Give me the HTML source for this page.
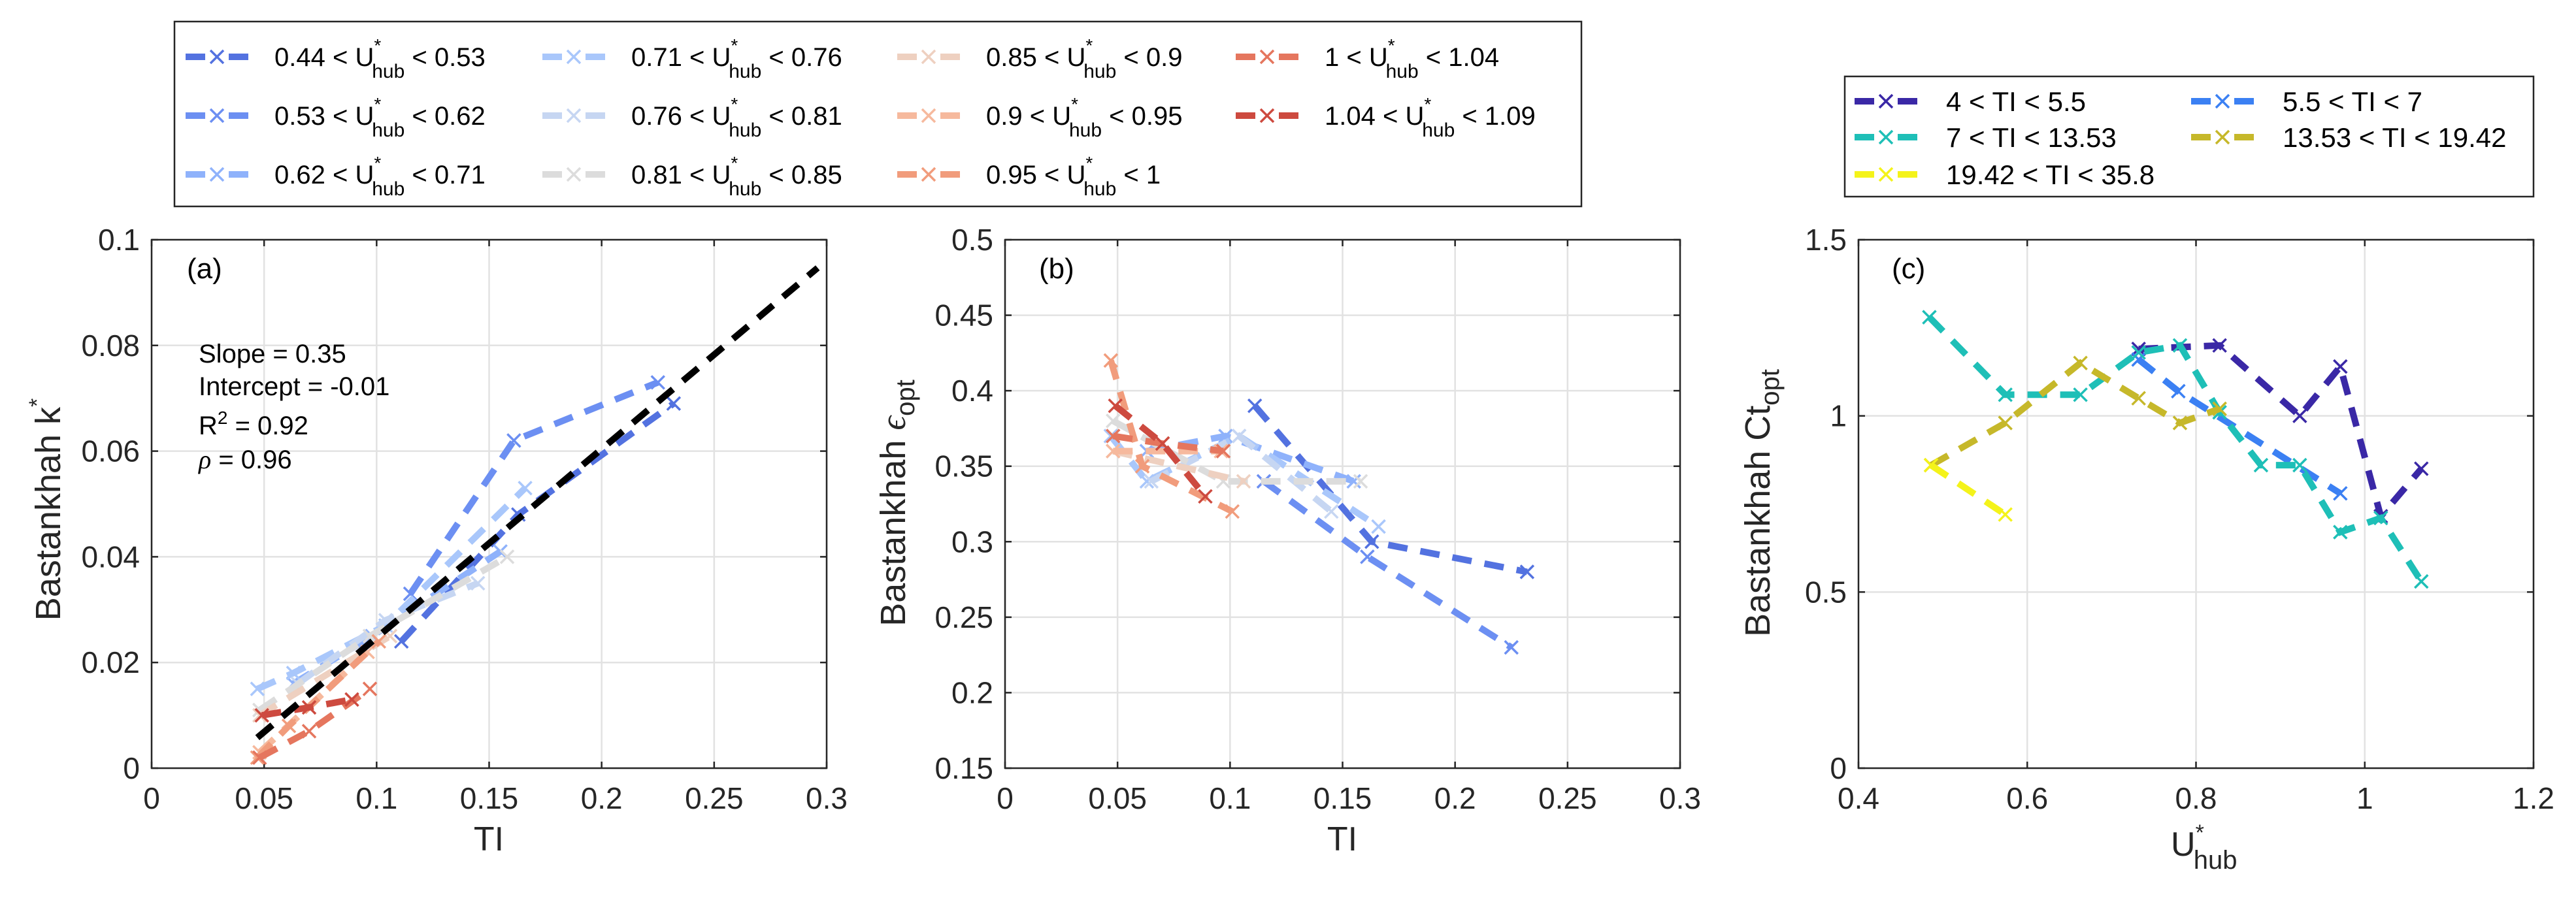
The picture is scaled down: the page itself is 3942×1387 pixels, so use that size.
<!DOCTYPE html>
<html><head><meta charset="utf-8">
<style>
html,body{margin:0;padding:0;background:#fff;}
svg{display:block;font-family:"Liberation Sans",sans-serif;}
</style></head>
<body>
<svg id="fig" width="3942" height="1387" viewBox="0 0 3942 1387" xmlns="http://www.w3.org/2000/svg">
<rect width="3942" height="1387" fill="#fff"/>
<g id="legendMain"></g>
<g id="legendC"></g>
<g id="panelA"></g>
<g id="panelB"></g>
<g id="panelC"></g>
</svg>
<script>
// ---- Panel (a)/(b) data: one series per U*hub bin ----
const binLabels = [["0.44","0.53"],["0.53","0.62"],["0.62","0.71"],["0.71","0.76"],["0.76","0.81"],["0.81","0.85"],["0.85","0.9"],["0.9","0.95"],["0.95","1"],["1","1.04"],["1.04","1.09"]];
const binColors = ["#5372e0","#6c8ff2","#8fb2fb","#a9c7fb","#c6d6f2","#dcdcdc","#eed0c0","#f6b99d","#f19c7c","#e5765e","#cd4a3f"];
const tiS1 = [0.111,0.163,0.232];       const kS1 = [0.024,0.048,0.069]; const epsS1 = [0.39,0.30,0.28];
const tiS2 = [0.115,0.161,0.225];       const kS2 = [0.033,0.062,0.073]; const epsS2 = [0.34,0.29,0.23];
const tiS3 = [0.063,0.098,0.155];       const kS3 = [0.016,0.025,0.041]; const epsS3 = [0.36,0.37,0.34];
const tiS4 = [0.047,0.063,0.104,0.166]; const kS4 = [0.015,0.018,0.027,0.053]; const epsS4 = [0.37,0.34,0.37,0.31];
const tiS5 = [0.065,0.104,0.145];       const kS5 = [0.016,0.028,0.035]; const epsS5 = [0.34,0.37,0.32];
const tiS6 = [0.048,0.097,0.158];       const kS6 = [0.011,0.025,0.040]; const epsS6 = [0.38,0.34,0.34];
const tiS7 = [0.048,0.106];             const kS7 = [0.010,0.025]; const epsS7 = [0.36,0.34];
const tiS8 = [0.048,0.096];             const kS8 = [0.003,0.022]; const epsS8 = [0.36,0.36];
const tiS9 = [0.047,0.061,0.101];       const kS9 = [0.002,0.008,0.024]; const epsS9 = [0.42,0.35,0.32];
const tiS10 = [0.048,0.070,0.097];      const kS10 = [0.002,0.007,0.015]; const epsS10 = [0.37,0.365,0.36];
const tiS11 = [0.049,0.070,0.089];      const kS11 = [0.010,0.0115,0.013]; const epsS11 = [0.39,0.365,0.33];
const fitSlope = 0.357; const fitIntercept = -0.011; const fitRange = [0.047,0.296];
const tickA_x = [0,0.05,0.1,0.15,0.2,0.25,0.3];
const tickA_y = [0,0.02,0.04,0.06,0.08,0.1];
const tickB_y = [0.15,0.2,0.25,0.3,0.35,0.4,0.45,0.5];
// ---- Panel (c) data ----
const tiBinLabels = ["4 < TI < 5.5","5.5 < TI < 7","7 < TI < 13.53","13.53 < TI < 19.42","19.42 < TI < 35.8"];
const tiBinColors = ["#3a28a6","#3b80f3","#1ebfb7","#c6b82a","#f4f31a"];
const uC1 = [0.732,0.828,0.923,0.971,1.019,1.067]; const ctC1 = [1.19,1.20,1.00,1.14,0.715,0.85];
const uC2 = [0.732,0.779,0.971];                   const ctC2 = [1.16,1.07,0.78];
const uC3 = [0.484,0.574,0.663,0.732,0.781,0.828,0.877,0.923,0.971,1.019,1.067]; const ctC3 = [1.28,1.06,1.06,1.18,1.20,1.01,0.86,0.86,0.67,0.71,0.53];
const uC4 = [0.486,0.574,0.663,0.732,0.781,0.828]; const ctC4 = [0.86,0.98,1.15,1.05,0.98,1.02];
const uC5 = [0.486,0.574];                         const ctC5 = [0.86,0.72];
const tickC_x = [0.4,0.6,0.8,1,1.2];
const tickC_y = [0,0.5,1,1.5];

const NS="http://www.w3.org/2000/svg";
function mk(tag, attrs, parent){const e=document.createElementNS(NS,tag);for(const k in attrs)e.setAttribute(k,attrs[k]);if(parent)parent.appendChild(e);return e;}
function fmt(v){return String(+v.toFixed(3));}

function axes(g, box, xd, yd, xt, yt, nm){
  const sx=v=>box.x0+(v-xd[0])/(xd[1]-xd[0])*(box.x1-box.x0);
  const sy=v=>box.y1-(v-yd[0])/(yd[1]-yd[0])*(box.y1-box.y0);
  const grid=mk('g',{},g);
  
  
  xt.forEach(v=>{const x=sx(v);
    mk('line',{x1:x,x2:x,y1:box.y0,y2:box.y1,stroke:'#e2e2e2','stroke-width':2.5},grid);
    mk('line',{x1:x,x2:x,y1:box.y1,y2:box.y1-10,stroke:'#262626','stroke-width':2.5},g);
    mk('line',{x1:x,x2:x,y1:box.y0,y2:box.y0+10,stroke:'#262626','stroke-width':2.5},g);
    const t=mk('text',{x:x,y:box.y1+62,'font-size':46,'text-anchor':'middle',fill:'#262626'},g);t.textContent=fmt(v);
    
    
  });
  yt.forEach(v=>{const y=sy(v);
    mk('line',{x1:box.x0,x2:box.x1,y1:y,y2:y,stroke:'#e2e2e2','stroke-width':2.5},grid);
    mk('line',{x1:box.x0,x2:box.x0+10,y1:y,y2:y,stroke:'#262626','stroke-width':2.5},g);
    mk('line',{x1:box.x1,x2:box.x1-10,y1:y,y2:y,stroke:'#262626','stroke-width':2.5},g);
    const t=mk('text',{x:box.x0-18,y:y+16,'font-size':46,'text-anchor':'end',fill:'#262626'},g);t.textContent=fmt(v);
    
    
  });
  const r=mk('rect',{x:box.x0,y:box.y0,width:box.x1-box.x0,height:box.y1-box.y0,fill:'none',stroke:'#262626','stroke-width':2.5});
  
  
  g.appendChild(r);
  return {sx,sy};
}
function series(g, xs, ys, color, S, nm){
  const sg=mk('g',{},g);
  
  
  const pts=xs.map((x,i)=>S.sx(x)+','+S.sy(ys[i])).join(' ');
  mk('polyline',{points:pts,fill:'none',stroke:color,'stroke-width':10,'stroke-dasharray':'30 20'},sg);
  xs.forEach((x,i)=>{const cx=S.sx(x),cy=S.sy(ys[i]),d=10;
    mk('path',{d:`M${cx-d},${cy-d}L${cx+d},${cy+d}M${cx-d},${cy+d}L${cx+d},${cy-d}`,stroke:color,'stroke-width':3.5},sg);});
}
function sample(g,x,y,color){
  mk('line',{x1:x,x2:x+96,y1:y,y2:y,stroke:color,'stroke-width':10,'stroke-dasharray':'30 36 30'},g);
  mk('path',{d:`M${x+38},${y-10}L${x+58},${y+10}M${x+38},${y+10}L${x+58},${y-10}`,stroke:color,'stroke-width':3.5},g);
}

const allTI=[tiS1,tiS2,tiS3,tiS4,tiS5,tiS6,tiS7,tiS8,tiS9,tiS10,tiS11];
const allK=[kS1,kS2,kS3,kS4,kS5,kS6,kS7,kS8,kS9,kS10,kS11];
const allE=[epsS1,epsS2,epsS3,epsS4,epsS5,epsS6,epsS7,epsS8,epsS9,epsS10,epsS11];

// Panel A
const gA=document.getElementById('panelA');
const SA=axes(gA,{x0:232,x1:1265,y0:367,y1:1176},[0,0.3],[0,0.1],tickA_x,tickA_y,'panel-a');
allTI.forEach((t,i)=>series(gA,t,allK[i],binColors[i],SA,'panel-a-series-'+(i+1)));
const fit=mk('line',{x1:SA.sx(fitRange[0]),y1:SA.sy(fitSlope*fitRange[0]+fitIntercept),x2:SA.sx(fitRange[1]),y2:SA.sy(fitSlope*fitRange[1]+fitIntercept),stroke:'#000','stroke-width':10,'stroke-dasharray':'30 20'},gA);



// Panel B
const gB=document.getElementById('panelB');
const SB=axes(gB,{x0:1538,x1:2571,y0:367,y1:1176},[0,0.3],[0.15,0.5],tickA_x,tickB_y,'panel-b');
allTI.forEach((t,i)=>series(gB,t,allE[i],binColors[i],SB,'panel-b-series-'+(i+1)));

// Panel C
const gC=document.getElementById('panelC');
const SC=axes(gC,{x0:2844,x1:3877,y0:367,y1:1176},[0.4,1.2],[0,1.5],tickC_x,tickC_y,'panel-c');
[[uC1,ctC1],[uC2,ctC2],[uC3,ctC3],[uC4,ctC4],[uC5,ctC5]].forEach((s,i)=>series(gC,s[0],s[1],tiBinColors[i],SC,'panel-c-series-'+(i+1)));

// Main legend
const gL=document.getElementById('legendMain');
mk('rect',{x:267,y:33,width:2153,height:283,fill:'#fff',stroke:'#262626','stroke-width':2.5},gL);
const colX=[284,830,1373,1891], rowY=[87,177,267];
binLabels.forEach((b,i)=>{
  const c=Math.floor(i/3), r=i%3; const x=colX[c], y=rowY[r];
  const ent=mk('g',{},gL);
  
  
  sample(ent,x,y,binColors[i]);
  const t=mk('text',{x:x+136,y:y+14,'font-size':40,fill:'#000'},ent);
  t.innerHTML=b[0]+' &lt; U<tspan dy="-22" font-size="28">*</tspan><tspan dx="-14" dy="40" font-size="30">hub</tspan><tspan dy="-18"> &lt; '+b[1]+'</tspan>';
});

// Panel C legend
const gLC=document.getElementById('legendC');
mk('rect',{x:2823,y:117,width:1054,height:184,fill:'#fff',stroke:'#262626','stroke-width':2.5},gLC);
const cX=[2838,3353], cY=[155,210,267];
tiBinLabels.forEach((lab,i)=>{
  const order=[[0,0],[1,0],[0,1],[1,1],[0,2]][i];
  const ent=mk('g',{},gLC);
  
  
  sample(ent,cX[order[0]],cY[order[1]],tiBinColors[i]);
  const t=mk('text',{x:cX[order[0]]+140,y:cY[order[1]]+15,'font-size':42,fill:'#000'},ent);
  t.textContent=lab;
});

// Text labels
function txt(s,attrs,name,parent){const t=mk('text',attrs,parent||document.getElementById('fig'));t.innerHTML=s;
  
  return t;}
txt('(a)',{x:286,y:426,'font-size':44,fill:'#000'},'panel-a-label');
txt('(b)',{x:1590,y:426,'font-size':44,fill:'#000'},'panel-b-label');
txt('(c)',{x:2895,y:426,'font-size':44,fill:'#000'},'panel-c-label');
txt('Slope = 0.35',{x:304,y:555,'font-size':40,fill:'#000'},'slope-annotation');
txt('Intercept = -0.01',{x:304,y:605,'font-size':40,fill:'#000'},'intercept-annotation');
txt('R<tspan dy="-16" font-size="28">2</tspan><tspan dy="16"> = 0.92</tspan>',{x:304,y:665,'font-size':40,fill:'#000'},'r2-annotation');
txt('<tspan font-family="Liberation Serif" font-style="italic">ρ</tspan> = 0.96',{x:304,y:717,'font-size':40,fill:'#000'},'rho-annotation');
txt('TI',{x:748,y:1302,'font-size':52,'text-anchor':'middle',fill:'#262626'},'panel-a-x-axis-title');
txt('TI',{x:2054,y:1302,'font-size':52,'text-anchor':'middle',fill:'#262626'},'panel-b-x-axis-title');
txt('U<tspan dy="-24" font-size="34">*</tspan><tspan dx="-16" dy="44" font-size="40">hub</tspan>',{x:3322,y:1310,'font-size':52,fill:'#262626'},'panel-c-x-axis-title');
txt('Bastankhah k<tspan dy="-24" font-size="34">*</tspan>',{x:0,y:0,'font-size':54,'text-anchor':'middle',fill:'#262626',transform:'translate(92,780) rotate(-90)'},'panel-a-y-axis-title');
txt('Bastankhah <tspan font-family="Liberation Serif" font-style="italic">ϵ</tspan><tspan dy="14" font-size="40">opt</tspan>',{x:0,y:0,'font-size':54,'text-anchor':'middle',fill:'#262626',transform:'translate(1385,770) rotate(-90)'},'panel-b-y-axis-title');
txt('Bastankhah Ct<tspan dy="14" font-size="40">opt</tspan>',{x:0,y:0,'font-size':54,'text-anchor':'middle',fill:'#262626',transform:'translate(2708,770) rotate(-90)'},'panel-c-y-axis-title');
</script>
</body></html>
